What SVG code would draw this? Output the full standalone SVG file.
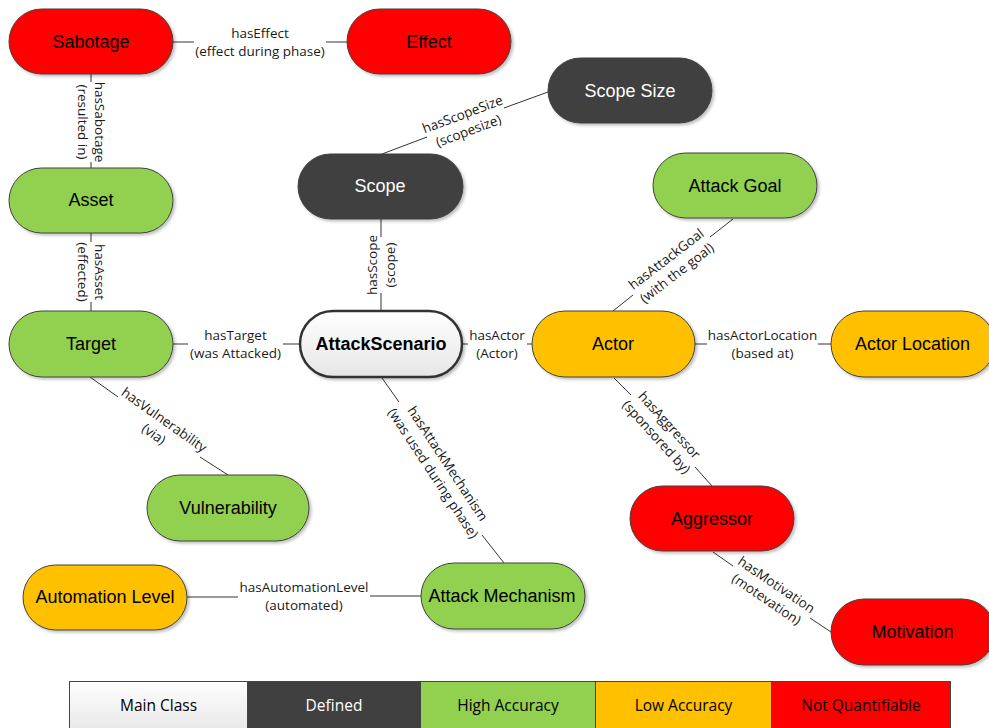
<svg xmlns="http://www.w3.org/2000/svg" width="989" height="728" viewBox="0 0 989 728">
<style>
.node rect{stroke:#404040;stroke-width:1;filter:url(#sh)}
.nt{font-family:"Liberation Sans",Arial,sans-serif;font-size:18px;text-anchor:middle;fill:#000}
.w{fill:#fff}
.red{fill:#ff0000}.grn{fill:#92d050}.org{fill:#ffc000}.drk{fill:#404040}
.lbl{font-family:"Open Sans",sans-serif;font-size:13.5px;text-anchor:middle;fill:#1a1a1a}
#connectors path{stroke:#333;stroke-width:1;fill:none}
.leg rect{stroke:#444;stroke-width:1}
.lt{font-family:"Open Sans",sans-serif;font-size:15.5px;text-anchor:middle;fill:#000}
</style>
<defs>
<filter id="sh" x="-10%" y="-20%" width="125%" height="150%">
<feDropShadow dx="2" dy="2" stdDeviation="1.5" flood-color="#000" flood-opacity="0.25"/>
</filter>
<linearGradient id="wg" x1="0" y1="0" x2="0" y2="1">
<stop offset="0" stop-color="#ffffff"/><stop offset="1" stop-color="#e6e6e6"/>
</linearGradient>
</defs>
<rect width="989" height="728" fill="#fff"/>
<g id="connectors">
<path d="M173 42H194M326 42H347"/>
<path d="M91 74V82M91 162V168"/>
<path d="M91 233V242M91 302V311"/>
<path d="M382 154L427 137M504 108L548 92"/>
<path d="M381 219V237M381 293V311"/>
<path d="M613 311L633 295M710 237L733 219"/>
<path d="M173 344H188M283 344H300"/>
<path d="M462 344H468M527 344H532"/>
<path d="M695 344H707M818 344H831"/>
<path d="M90 377L118 397M200 457L228 475"/>
<path d="M382 378L399 402M482 535L504 563"/>
<path d="M187 597H238M370 596H422"/>
<path d="M614 378L631 395M695 467L712 486"/>
<path d="M713 552L733 566M810 618L831 632"/>
<g class="lbl">
<text x="260" y="38">hasEffect</text><text x="260" y="55.5">(effect during phase)</text>
<g transform="translate(91 122) rotate(90)"><text y="-4">hasSabotage</text><text y="13.5">(resulted in)</text></g>
<g transform="translate(91 272) rotate(90)"><text y="-4">hasAsset</text><text y="13.5">(effected)</text></g>
<g transform="translate(465.5 122.5) rotate(-20.5)"><text y="-4">hasScopeSize</text><text y="13.5">(scopesize)</text></g>
<g transform="translate(381 265) rotate(-90)"><text y="-4">hasScope</text><text y="13.5">(scope)</text></g>
<g transform="translate(671.5 266) rotate(-37.5)"><text y="-4">hasAttackGoal</text><text y="13.5">(with the goal)</text></g>
<text x="235.5" y="340">hasTarget</text><text x="235.5" y="357.5">(was Attacked)</text>
<text x="497" y="340">hasActor</text><text x="497" y="357.5">(Actor)</text>
<text x="762.5" y="340">hasActorLocation</text><text x="762.5" y="357.5">(based at)</text>
<g transform="translate(159 427) rotate(35.4)"><text y="-4">hasVulnerability</text><text y="13.5">(via)</text></g>
<g transform="translate(440.5 468.5) rotate(56.6)"><text y="-4">hasAttackMechanism</text><text y="13.5">(was used during phase)</text></g>
<text x="304" y="592">hasAutomationLevel</text><text x="304" y="609.5">(automated)</text>
<g transform="translate(663 431) rotate(47.8)"><text y="-4">hasAggressor</text><text y="13.5">(sponsored by)</text></g>
<g transform="translate(771.5 592) rotate(34.1)"><text y="-4">hasMotivation</text><text y="13.5">(motevation)</text></g>
</g>
</g>
<g id="n-sabotage" class="node"><rect class="red" x="9" y="9" width="164" height="65" rx="32.5"/><text class="nt" x="91" y="48">Sabotage</text></g>
<g id="n-effect" class="node"><rect class="red" x="347" y="9" width="164" height="65" rx="32.5"/><text class="nt" x="429" y="48">Effect</text></g>
<g id="n-scopesize" class="node"><rect class="drk" x="548" y="58" width="164" height="65" rx="32.5"/><text class="nt w" x="630" y="97">Scope Size</text></g>
<g id="n-asset" class="node"><rect class="grn" x="9" y="168" width="164" height="65" rx="32.5"/><text class="nt" x="91" y="206">Asset</text></g>
<g id="n-scope" class="node"><rect class="drk" x="298" y="154" width="165" height="65" rx="32.5"/><text class="nt w" x="380" y="192">Scope</text></g>
<g id="n-attackgoal" class="node"><rect class="grn" x="653" y="153" width="164" height="65" rx="32.5"/><text class="nt" x="735" y="192">Attack Goal</text></g>
<g id="n-target" class="node"><rect class="grn" x="9" y="311" width="164" height="66" rx="33"/><text class="nt" x="91" y="350">Target</text></g>
<g id="n-attackscenario" class="node"><rect x="300" y="311" width="162" height="66" rx="33" fill="url(#wg)" style="stroke:#333;stroke-width:2.5"/><text class="nt" x="381" y="350" font-weight="bold">AttackScenario</text></g>
<g id="n-actor" class="node"><rect class="org" x="532" y="311" width="163" height="66" rx="33"/><text class="nt" x="613" y="350">Actor</text></g>
<g id="n-actorlocation" class="node"><rect class="org" x="831" y="311" width="164" height="66" rx="33"/><text class="nt" x="912.5" y="350">Actor Location</text></g>
<g id="n-vulnerability" class="node"><rect class="grn" x="147" y="475" width="162" height="66" rx="33"/><text class="nt" x="228" y="514">Vulnerability</text></g>
<g id="n-aggressor" class="node"><rect class="red" x="630" y="486" width="164" height="65" rx="32.5"/><text class="nt" x="712" y="525">Aggressor</text></g>
<g id="n-automationlevel" class="node"><rect class="org" x="23" y="565" width="164" height="65" rx="32.5"/><text class="nt" x="105" y="603">Automation Level</text></g>
<g id="n-attackmechanism" class="node"><rect class="grn" x="421" y="563" width="164" height="66" rx="33"/><text class="nt" x="502" y="602">Attack Mechanism</text></g>
<g id="n-motivation" class="node"><rect class="red" x="831" y="599" width="164" height="66" rx="33"/><text class="nt" x="912.5" y="638">Motivation</text></g>
<g id="legend" class="leg">
<rect x="69.5" y="681.5" width="178" height="52" fill="url(#wg)"/>
<rect x="247.5" y="681.5" width="173" height="52" fill="#404040"/>
<rect x="420.5" y="681.5" width="175" height="52" fill="#92d050"/>
<rect x="595.5" y="681.5" width="176" height="52" fill="#ffc000"/>
<rect x="771.5" y="681.5" width="179" height="52" fill="#ff0000"/>
<text class="lt" x="158.5" y="711">Main Class</text>
<text class="lt" x="334" y="711" style="fill:#fff">Defined</text>
<text class="lt" x="508" y="711">High Accuracy</text>
<text class="lt" x="683.5" y="711">Low Accuracy</text>
<text class="lt" x="861" y="711">Not Quantifiable</text>
</g>
</svg>
